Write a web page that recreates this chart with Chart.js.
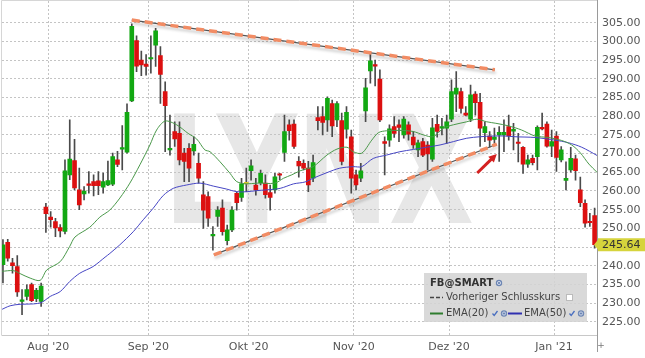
<!DOCTYPE html>
<html>
<head>
<meta charset="utf-8">
<script src="https://cdn.jsdelivr.net/npm/chart.js@4"></script>
<style>
  html, body { margin: 0; padding: 0; background: #fff; }
  #wrap { width: 645px; height: 358px; }
</style>
</head>
<body>
<div id="wrap"><canvas id="fbChart" width="645" height="358"></canvas></div>
<script>
// FB@SMART daily candles, 20 Jul 2020 .. 14 Jan 2021 (one entry per trading day)
const openP  = [240.3,246.3,240.8,239.8,230.5,231.8,235.0,231.2,230.5,255.7,
                253.0,251.8,250.2,249.2,264.3,268.1,260.3,259.2,261.8,262.5,
                262.7,261.0,261.6,261.8,268.3,271.2,270.4,284.1,300.2,295.0,
                293.9,295.3,299.0,296.2,286.6,271.0,275.9,275.4,270.1,271.4,
                270.7,267.4,259.0,258.5,248.0,253.2,255.4,246.7,249.6,259.4,
                258.3,261.9,265.4,261.6,262.2,262.1,259.6,260.3,264.6,270.3,
                277.7,277.9,267.9,267.4,266.1,263.4,279.6,279.9,279.0,283.4,
                279.0,278.8,276.5,274.5,264.3,263.4,281.4,292.1,293.7,289.9,
                273.2,273.6,277.2,277.7,275.0,277.7,274.4,271.0,273.2,272.3,
                268.5,277.8,276.8,276.8,279.2,285.9,286.6,280.8,279.2,285.9,
                283.7,275.6,274.7,273.8,275.0,275.0,277.2,276.0,273.0,271.7,
                267.2,268.7,269.2,277.0,277.9,272.0,274.7,268.3,262.8,265.6,
                268.6,260.3,256.7,251.7,253.4];
const highP  = [247.0,247.1,242.0,242.7,233.6,234.9,235.4,234.0,235.4,256.7,
                254.5,252.7,251.0,268.3,279.0,273.8,266.1,261.2,265.2,264.3,
                265.2,264.8,268.0,270.1,270.6,277.5,283.3,304.7,301.5,297.4,
                296.5,301.5,303.5,298.6,289.2,280.3,278.5,278.5,271.4,272.7,
                274.5,270.1,262.5,259.8,250.5,255.8,257.6,250.9,255.8,259.8,
                263.4,266.1,268.3,263.4,265.6,264.3,261.6,264.7,264.7,280.3,
                279.0,279.0,269.2,268.3,267.9,269.6,282.6,282.6,285.2,284.3,
                283.9,280.8,282.6,276.3,265.6,267.4,290.1,297.0,295.0,292.4,
                274.5,277.7,279.9,279.0,279.9,278.5,275.9,273.6,274.1,273.2,
                279.4,280.3,279.4,280.3,289.7,291.9,287.5,282.6,288.3,286.6,
                286.1,278.5,275.9,276.8,277.2,279.0,280.3,278.1,275.4,271.9,
                269.6,269.6,277.4,280.8,278.5,276.3,275.9,271.9,267.8,271.7,
                269.6,263.7,257.6,254.0,255.4];
const lowP   = [235.4,241.2,238.0,231.8,226.9,230.9,230.4,230.4,229.1,248.9,
                250.3,247.8,247.7,248.5,263.0,260.3,255.0,257.6,259.4,258.7,
                259.0,259.4,261.4,261.4,266.5,265.6,270.1,283.9,291.9,290.8,
                291.0,291.5,293.3,283.4,270.5,269.6,271.9,267.0,262.5,262.5,
                269.6,262.1,250.0,250.5,244.2,250.5,248.2,245.6,249.1,254.9,
                257.2,259.8,262.9,258.9,261.6,258.1,254.9,259.4,263.0,267.9,
                273.6,271.4,263.7,265.6,259.8,262.5,276.3,275.0,275.9,274.5,
                277.2,267.0,274.1,259.4,260.3,262.5,278.5,288.8,288.1,278.5,
                264.3,271.9,274.3,273.2,274.1,273.6,271.4,269.2,269.2,265.6,
                267.9,274.4,275.0,272.7,278.5,281.2,280.8,280.1,278.5,280.3,
                271.9,273.2,271.7,272.7,267.9,270.5,273.6,271.0,267.8,264.7,
                266.3,267.0,265.6,276.3,271.7,269.2,265.2,267.8,260.3,265.0,
                262.9,255.8,250.3,250.5,244.7];
const closeP = [245.6,242.0,240.0,233.0,230.9,233.6,230.7,233.4,234.6,253.9,
                252.3,250.1,249.3,265.4,268.5,260.8,256.3,260.0,261.5,261.4,
                261.4,262.5,262.8,269.2,267.1,271.6,281.0,304.0,293.4,293.7,
                293.3,295.7,302.8,291.2,282.8,271.3,273.9,268.3,267.9,266.1,
                272.5,263.4,254.9,252.7,248.3,254.9,249.1,249.6,254.9,256.9,
                261.9,261.9,266.7,260.3,264.7,259.0,258.3,263.8,264.2,275.9,
                276.1,271.9,266.7,266.1,261.6,267.6,278.8,278.3,284.8,277.4,
                283.4,267.9,281.0,263.4,261.6,265.4,287.6,294.8,293.4,279.0,
                272.7,276.6,275.4,277.0,279.2,275.2,272.3,272.9,269.6,269.9,
                276.9,275.9,276.9,278.5,286.6,287.5,282.1,280.3,285.7,283.6,
                276.8,277.2,273.6,274.4,275.7,275.7,274.7,276.5,272.7,267.2,
                268.3,267.6,277.0,276.6,272.0,273.2,269.0,271.0,263.4,268.7,
                265.4,256.9,251.4,251.5,245.64];

// EMA lines: [trading day index, value]
const ema20 = [[-0.3,238.5],[2.2,238.7],[3.6,237.9],[5.7,236.7],[7.8,236.1],[9.2,238.9],
               [12,241.1],[14,245.2],[15.1,247.7],[18.2,250.3],[20.3,253.0],[22.4,254.9],
               [24.5,258.1],[26.6,262.1],[28.7,267.0],[30.8,272.3],[32.2,276.3],[34,278.7],
               [36.4,277.7],[38.8,275.4],[40.6,273.9],[42.3,271.0],[43.4,270.5],[45.5,267.8],
               [47.6,264.7],[49,262.5],[51.1,261.9],[53.2,262.1],[57,262.1],[58.8,263.4],
               [60.5,264.3],[62.3,265.4],[65,266.5],[67.9,269.6],[70,271.2],[72.1,271.7],
               [73.4,270.5],[75.2,270.1],[77.3,273.6],[78.7,275.6],[80.4,276.1],[83.2,276.2],
               [86,275.9],[88.1,275.0],[90.2,274.5],[92.3,276.8],[94.4,277.7],[97.2,278.5],
               [99.3,279.2],[101.4,278.5],[103.3,278.1],[106,277.4],[108.7,276.3],[111.5,274.7],
               [114.3,274.3],[117.1,273.5],[119.2,272.3],[121,270.2],[122.8,267.2],[124.5,265.0]];
const ema50 = [[-0.6,228.1],[1.5,229.3],[3.6,229.7],[6.4,229.8],[8.1,230.2],[9.9,231.8],
               [12,233.1],[14,235.8],[16.1,238.0],[18.9,239.8],[21.4,242.3],[22.4,243.3],
               [24.5,245.6],[27.3,249.1],[29.4,252.3],[31.5,255.4],[33.6,258.8],[35.7,260.7],
               [38.5,261.6],[41.3,262.1],[44.1,261.3],[46.9,260.5],[49,259.8],[51.1,259.8],
               [53.2,260.1],[55.3,260.3],[58.1,260.7],[60.9,261.9],[63.3,262.4],[65,263.4],
               [67.9,264.9],[70.6,266.1],[73.4,266.5],[75.2,266.5],[77.6,268.7],[80.4,269.6],
               [83.2,270.5],[86,271.1],[88.8,271.7],[91.6,272.3],[94.4,273.2],[97.2,274.1],
               [100,274.5],[102.8,274.7],[105.2,274.7],[107.3,274.5],[111.5,274.3],[115.7,273.6],
               [118.5,272.9],[121.3,271.7],[124.5,269.5]];

// hand drawn trend lines and arrow: [index, price]
const upperTrend = [[27.0,305.7],[103.1,292.4]];
const lowerTrend = [[44.2,242.9],[103.5,272.5]];
const arrowPts   = [[99.4,264.8],[103.5,269.9]];

const monthStartIndex = [10, 31, 52, 74, 94, 116];
const monthLabels = ["Aug '20", "Sep '20", "Okt '20", "Nov '20", "Dez '20", "Jan '21"];
const yTicks = [225,230,235,240,245,250,255,260,265,270,275,280,285,290,295,300,305];
const lastClose = closeP[closeP.length - 1];

const GREEN = '#12a812', RED = '#dc1010', DOJI = '#d8c828';

function candleColor(i){
    if(closeP[i] > openP[i]) return GREEN;
    if(closeP[i] < openP[i]) return RED;
    return DOJI;
}

const toXY = arr => arr.map(p => ({x: p[0], y: p[1]}));

/* WATERMARK */
const watermark = {
    id: 'watermark',
    beforeDraw(chart){
        const ctx = chart.ctx;
        ctx.save();
        ctx.font = 'bold 150px "DejaVu Sans"';
        const w = ctx.measureText('LYNX').width;
        ctx.translate(164, 223);
        ctx.scale(310 / w, 1);
        ctx.fillStyle = '#e7e7e7';
        ctx.fillText('LYNX', 0, 0);
        ctx.restore();
    }
};

/* SHADOW UNDER TREND LINES */
const trendShadow = {
    id: 'trendShadow',
    beforeDatasetDraw(chart, args){
        if(!chart.data.datasets[args.index].shadow) return;
        const ctx = chart.ctx;
        ctx.save();
        ctx.shadowColor = 'rgba(0,0,0,0.35)';
        ctx.shadowBlur = 3;
        ctx.shadowOffsetX = 1;
        ctx.shadowOffsetY = 3;
    },
    afterDatasetDraw(chart, args){
        if(!chart.data.datasets[args.index].shadow) return;
        chart.ctx.restore();
    }
};

/* ARROW, PRICE TAG, LEGEND BOX */
const overlay = {
    id: 'overlay',
    afterDraw(chart){
        const ctx = chart.ctx;
        const xs = chart.scales.x, ys = chart.scales.y;
        const area = chart.chartArea;

        // frame
        ctx.save();
        ctx.strokeStyle = '#d6d6d6';
        ctx.lineWidth = 1;
        ctx.beginPath();
        ctx.moveTo(area.left - 0.5, area.bottom);
        ctx.lineTo(area.left - 0.5, 0.5);
        ctx.lineTo(area.right, 0.5);
        ctx.stroke();
        ctx.strokeStyle = '#9a9a9a';
        ctx.beginPath();
        ctx.moveTo(area.right + 0.5, 0);
        ctx.lineTo(area.right + 0.5, 352);
        ctx.stroke();
        ctx.fillStyle = '#777';
        ctx.font = '9px "DejaVu Sans"';
        ctx.textAlign = 'center';
        ctx.textBaseline = 'middle';
        ctx.fillText('+', area.right + 4, 346);

        // red arrow
        const x1 = xs.getPixelForValue(arrowPts[0][0]), y1 = ys.getPixelForValue(arrowPts[0][1]);
        const x2 = xs.getPixelForValue(arrowPts[1][0]), y2 = ys.getPixelForValue(arrowPts[1][1]);
        const ang = Math.atan2(y2 - y1, x2 - x1);
        ctx.strokeStyle = '#d42020';
        ctx.fillStyle = '#d42020';
        ctx.lineWidth = 3;
        ctx.beginPath();
        ctx.moveTo(x1, y1);
        ctx.lineTo(x2 - 5 * Math.cos(ang), y2 - 5 * Math.sin(ang));
        ctx.stroke();
        ctx.beginPath();
        ctx.moveTo(x2, y2);
        ctx.lineTo(x2 - 8 * Math.cos(ang) + 4 * Math.sin(ang), y2 - 8 * Math.sin(ang) - 4 * Math.cos(ang));
        ctx.lineTo(x2 - 8 * Math.cos(ang) - 4 * Math.sin(ang), y2 - 8 * Math.sin(ang) + 4 * Math.cos(ang));
        ctx.closePath();
        ctx.fill();

        // last price tag
        const py = ys.getPixelForValue(lastClose);
        ctx.fillStyle = '#d6d43c';
        ctx.beginPath();
        ctx.moveTo(area.right - 3, py);
        ctx.lineTo(area.right + 1, py - 5);
        ctx.lineTo(area.right + 1, py - 6.5);
        ctx.lineTo(645, py - 6.5);
        ctx.lineTo(645, py + 6.5);
        ctx.lineTo(area.right + 1, py + 6.5);
        ctx.lineTo(area.right + 1, py + 5);
        ctx.closePath();
        ctx.fill();
        ctx.fillStyle = '#333';
        ctx.font = '11px "DejaVu Sans"';
        ctx.textAlign = 'left';
        ctx.fillText(lastClose.toFixed(2), area.right + 5, py + 0.5);

        // legend box
        ctx.fillStyle = 'rgba(212,212,212,0.88)';
        ctx.fillRect(424, 273, 163, 49);
        ctx.textAlign = 'left';
        ctx.textBaseline = 'middle';
        ctx.fillStyle = '#333';
        ctx.font = 'bold 10px "DejaVu Sans"';
        ctx.fillText('FB@SMART', 430, 283);
        globe(ctx, 499, 283);

        ctx.strokeStyle = '#444';
        ctx.lineWidth = 1.5;
        ctx.setLineDash([4, 2]);
        ctx.beginPath(); ctx.moveTo(430, 297.5); ctx.lineTo(443, 297.5); ctx.stroke();
        ctx.setLineDash([]);
        ctx.fillStyle = '#444';
        ctx.font = '10px "DejaVu Sans"';
        ctx.fillText('Vorheriger Schlusskurs', 446, 297.5);
        ctx.fillStyle = '#fff';
        ctx.fillRect(566, 294, 7, 7);
        ctx.strokeStyle = '#bbb';
        ctx.lineWidth = 1;
        ctx.strokeRect(566.5, 294.5, 6, 6);

        ctx.strokeStyle = '#2e7d2e';
        ctx.lineWidth = 2;
        ctx.beginPath(); ctx.moveTo(430, 313.5); ctx.lineTo(443, 313.5); ctx.stroke();
        ctx.fillStyle = '#444';
        ctx.fillText('EMA(20)', 446, 313.5);
        check(ctx, 495, 313.5);
        globe(ctx, 504, 313.5);
        ctx.strokeStyle = '#3030b0';
        ctx.lineWidth = 2;
        ctx.beginPath(); ctx.moveTo(508, 313.5); ctx.lineTo(522, 313.5); ctx.stroke();
        ctx.fillStyle = '#444';
        ctx.fillText('EMA(50)', 524, 313.5);
        check(ctx, 572, 313.5);
        globe(ctx, 581, 313.5);
        ctx.restore();
    }
};

function globe(ctx, x, y){
    ctx.save();
    ctx.fillStyle = '#6d86b4';
    ctx.beginPath(); ctx.arc(x, y, 3.2, 0, Math.PI * 2); ctx.fill();
    ctx.strokeStyle = '#dfe6f2';
    ctx.lineWidth = 0.8;
    ctx.beginPath(); ctx.arc(x, y, 1.6, 0, Math.PI * 2); ctx.stroke();
    ctx.restore();
}

function check(ctx, x, y){
    ctx.save();
    ctx.strokeStyle = '#4a6fc0';
    ctx.lineWidth = 1.3;
    ctx.beginPath();
    ctx.moveTo(x - 2.5, y);
    ctx.lineTo(x - 0.8, y + 2);
    ctx.lineTo(x + 2.5, y - 2.5);
    ctx.stroke();
    ctx.restore();
}

/* CHART */
const idx = closeP.map((c, i) => i);

new Chart(document.getElementById('fbChart'), {
    type: 'bar',
    data: {
        datasets: [
            {
                type: 'bar',
                data: idx.map(i => ({x: i, y: [lowP[i], highP[i]]})),
                backgroundColor: '#4a4a4a',
                barThickness: 1,
                grouped: false,
                order: 6
            },
            {
                type: 'bar',
                data: idx.map(i => ({x: i, y: [openP[i], closeP[i]]})),
                backgroundColor: idx.map(candleColor),
                barThickness: 4,
                minBarLength: 1.5,
                grouped: false,
                order: 5
            },
            {
                type: 'line',
                data: toXY(ema50),
                borderColor: '#4646c4',
                borderWidth: 1,
                pointRadius: 0,
                tension: 0.3,
                order: 4
            },
            {
                type: 'line',
                data: toXY(ema20),
                borderColor: '#4a984a',
                borderWidth: 1,
                pointRadius: 0,
                tension: 0.3,
                order: 3
            },
            {
                type: 'line',
                data: toXY(upperTrend),
                borderColor: '#555',
                borderWidth: 1.2,
                pointRadius: 0,
                shadow: true,
                order: 2
            },
            {
                type: 'line',
                data: toXY(lowerTrend),
                borderColor: '#555',
                borderWidth: 1.2,
                pointRadius: 0,
                shadow: true,
                order: 2
            },
            {
                type: 'line',
                data: toXY(upperTrend),
                borderColor: '#f28c64',
                borderWidth: 3.5,
                borderDash: [8, 5],
                pointRadius: 0,
                order: 1
            },
            {
                type: 'line',
                data: toXY(lowerTrend),
                borderColor: '#f28c64',
                borderWidth: 3.5,
                borderDash: [8, 5],
                pointRadius: 0,
                order: 1
            }
        ]
    },
    options: {
        responsive: false,
        animation: false,
        layout: { padding: { left: 2, top: 1, right: 0, bottom: 0 } },
        plugins: {
            legend: { display: false },
            tooltip: { enabled: false }
        },
        scales: {
            x: {
                type: 'linear',
                min: -0.2,
                max: 124.5,
                offset: false,
                afterBuildTicks: s => { s.ticks = monthStartIndex.map(i => ({value: i - 0.5})); },
                afterFit: s => { s.height = 22.3; s.paddingLeft = 0; s.paddingRight = 0; },
                ticks: {
                    autoSkip: false,
                    maxRotation: 0,
                    padding: 5,
                    color: '#555',
                    font: { family: 'DejaVu Sans', size: 11 },
                    callback: v => monthLabels[monthStartIndex.indexOf(v + 0.5)]
                },
                grid: { color: '#c4c4c4', drawTicks: false, offset: false },
                border: { color: '#c8c8c8', dash: [2, 2] }
            },
            y: {
                position: 'right',
                min: 221.3,
                max: 310.8,
                afterBuildTicks: s => { s.ticks = yTicks.map(v => ({value: v})); },
                afterFit: s => { s.width = 48; s.paddingTop = 0; s.paddingBottom = 0; },
                ticks: {
                    padding: 5,
                    color: '#555',
                    font: { family: 'DejaVu Sans', size: 11 },
                    callback: v => v.toFixed(2)
                },
                grid: { color: '#c4c4c4', drawTicks: false },
                border: { display: false, dash: [2, 2] }
            }
        }
    },
    plugins: [watermark, trendShadow, overlay]
});
</script>
</body>
</html>
